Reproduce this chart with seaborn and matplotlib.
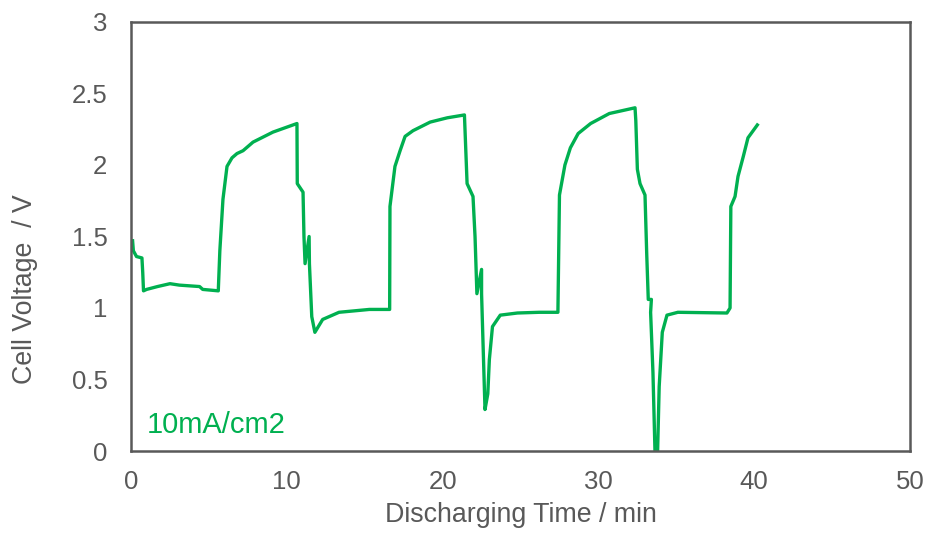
import pandas as pd
import matplotlib
matplotlib.use("Agg")
import matplotlib.pyplot as plt
import seaborn as sns

# discharge curve
time_min = [0.1, 0.15, 0.35, 0.7, 0.75, 0.8, 1.0, 1.7, 2.5, 3.1, 4.4, 4.6, 5.6,
            5.7, 5.9, 6.16, 6.48, 6.8, 7.19, 7.83, 9.11, 10.65,
            10.67, 11.04, 11.1, 11.17, 11.43, 11.45, 11.6, 11.8, 12.3, 13.35, 15.3, 16.6,
            16.62, 16.94, 17.27, 17.59, 18.1, 19.2, 20.3, 21.4,
            21.57, 21.95, 22.08, 22.2, 22.5, 22.5, 22.6, 22.72, 22.9, 23.0, 23.2, 23.7, 24.8, 26.2, 27.4,
            27.5, 27.85, 28.2, 28.7, 29.5, 30.7, 32.35,
            32.4, 32.5, 32.67, 32.99, 33.1, 33.2, 33.4, 33.35, 33.5, 33.63, 33.8, 33.9, 34.1, 34.4, 35.1, 38.25,
            38.45, 38.5, 38.77, 38.96, 39.3, 39.6, 40.2]
voltage_v = [1.47, 1.40, 1.36, 1.35, 1.25, 1.12, 1.13, 1.15, 1.17, 1.16, 1.15, 1.13, 1.12,
             1.40, 1.76, 1.99, 2.05, 2.08, 2.10, 2.16, 2.23, 2.29,
             1.87, 1.81, 1.50, 1.31, 1.50, 1.31, 0.94, 0.83, 0.92, 0.97, 0.99, 0.99,
             1.71, 1.99, 2.10, 2.20, 2.24, 2.30, 2.33, 2.35,
             1.87, 1.78, 1.50, 1.10, 1.27, 1.10, 0.73, 0.29, 0.40, 0.64, 0.87, 0.95, 0.965, 0.97, 0.97,
             1.79, 2.00, 2.12, 2.22, 2.29, 2.36, 2.40,
             2.31, 1.97, 1.87, 1.79, 1.38, 1.06, 1.06, 0.97, 0.55, 0.00, 0.00, 0.45, 0.83, 0.95, 0.97, 0.965,
             1.00, 1.71, 1.78, 1.92, 2.06, 2.19, 2.28]

df = pd.DataFrame({"time": time_min, "voltage": voltage_v})

plt.rcParams["font.family"] = ["Liberation Sans", "DejaVu Sans"]
grey = "#595959"
green = "#00B050"

fig = plt.figure(figsize=(9.3, 5.35), dpi=100)
ax = fig.add_axes([0.1409, 0.157, 0.8376, 0.8019])

sns.lineplot(data=df, x="time", y="voltage", sort=False, estimator=None,
             color=green, linewidth=2.4, ax=ax)

ax.set_xlim(0, 50)
ax.set_ylim(0, 3)
ax.set_xticks([0, 10, 20, 30, 40, 50])
ax.set_yticks([0, 0.5, 1, 1.5, 2, 2.5, 3])
ax.set_yticklabels(["0", "0.5", "1", "1.5", "2", "2.5", "3"])
ax.tick_params(axis="x", length=0, labelsize=18.5, labelcolor=grey, pad=14)
ax.tick_params(axis="y", length=0, labelsize=18.5, labelcolor=grey, pad=17)
for sp in ax.spines.values():
    sp.set_color(grey)
    sp.set_linewidth(1.8)

ax.set_xlabel("Discharging Time / min", fontsize=19.3, color=grey, va="center")
ax.xaxis.set_label_coords(0.501, -0.149)
ax.set_ylabel("Cell Voltage  / V", fontsize=19.3, color=grey, va="center")
ax.yaxis.set_label_coords(-0.136, 0.378)
ax.text(1.0, 0.18, "10mA/cm2", fontsize=21, color=green, ha="left", va="center")

plt.savefig("out.png", dpi=100)
